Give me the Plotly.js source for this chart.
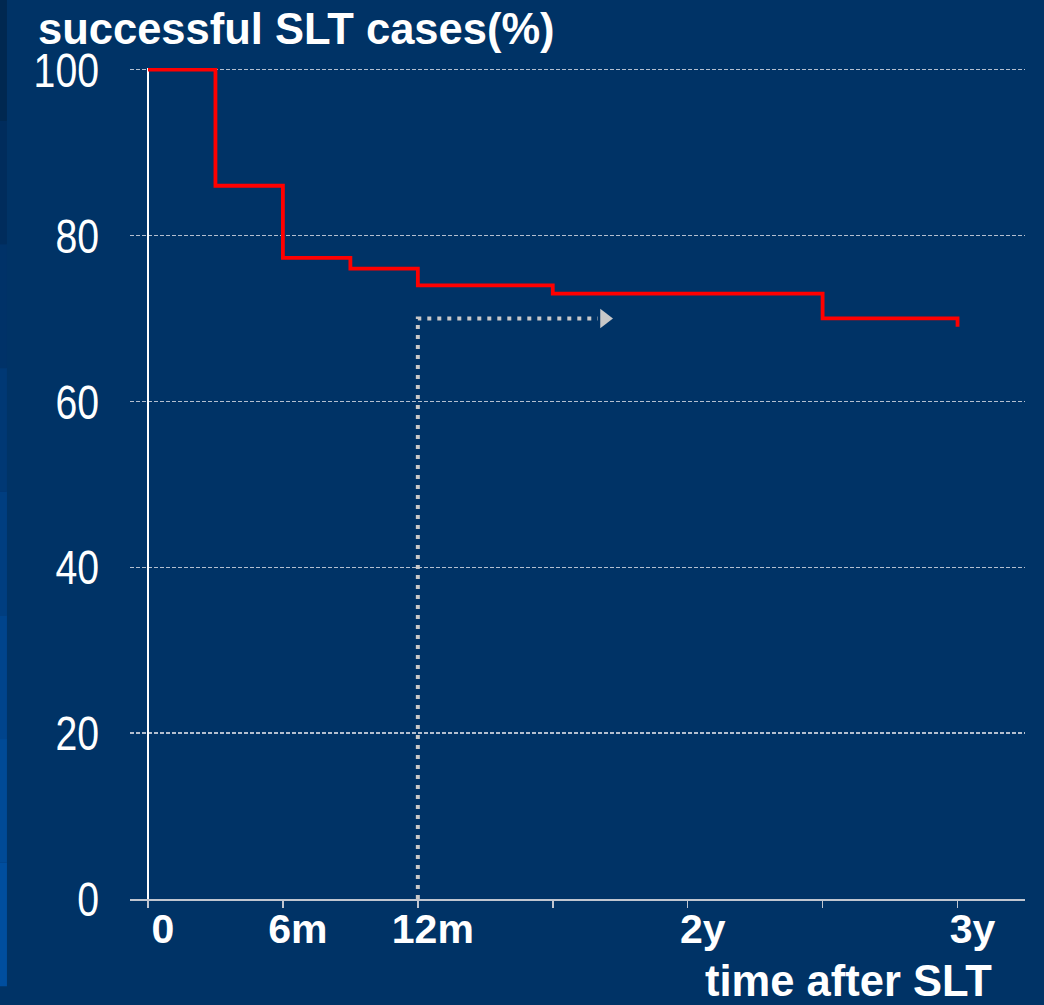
<!DOCTYPE html>
<html>
<head>
<meta charset="utf-8">
<script src="https://cdn.plot.ly/plotly-3.0.1.min.js"></script>
<style>html,body{margin:0;padding:0;background:#003366;}#chart{width:1044px;height:1005px;}</style>
</head>
<body>
<div id="chart"></div>
<script>
// Kaplan-Meier style step data (months after SLT, % successful)
const months = [0, 3, 6, 9, 12, 18, 30, 36, 36];
const successPct = [100, 86, 77.3, 76, 74, 73, 70, 70, 69];

// dotted guide arrow (12 months -> 70 %)
const guideX = [12, 12, 20];
const guideY = [0, 70, 70];
const arrowHeadX = [20.3];
const arrowHeadY = [70];

// axis ticks
const xTickVals = [0, 6, 12, 24, 36];
const xTickText = ['0', '6m', '12m', '2y', '3y'];
const yTickVals = [0, 20, 40, 60, 80, 100];

const traces = [
  {
    x: guideX, y: guideY, type: 'scatter', mode: 'lines',
    line: {color: '#c8c8c8', width: 4, dash: '4px,6px'},
    hoverinfo: 'skip', showlegend: false
  },
  {
    x: arrowHeadX, y: arrowHeadY, type: 'scatter', mode: 'markers',
    marker: {symbol: 'triangle-right', size: 17, color: '#c8c8c8', line: {width: 0}},
    hoverinfo: 'skip', showlegend: false
  },
  {
    x: months, y: successPct, type: 'scatter', mode: 'lines',
    line: {color: '#ff0000', width: 3.8, shape: 'hv'},
    showlegend: false
  }
];

// left-edge gradient strip (dark top -> bright blue bottom)
const stripColors = ['#002850', '#002c5c', '#003268', '#003874', '#003e80', '#00448c', '#004a96', '#004e9e'];
const stripShapes = stripColors.map((c, i) => {
  const top = 1.085 - i * (1.085 + 0.105) / stripColors.length;
  const bot = 1.085 - (i + 1) * (1.085 + 0.105) / stripColors.length;
  return {type: 'rect', xref: 'paper', yref: 'paper', x0: -0.1453, x1: -0.1375, y0: bot, y1: top,
          fillcolor: c, line: {width: 0}, layer: 'below'};
});

const layout = {
  width: 1044, height: 1005,
  margin: {l: 130, r: 19, t: 68, b: 106},
  paper_bgcolor: '#003366',
  plot_bgcolor: '#003366',
  showlegend: false,
  xaxis: {
    range: [-0.8, 39],
    tickvals: xTickVals, ticktext: xTickText,
    ticks: 'outside', ticklen: 7, tickcolor: '#c0c6d0', tickwidth: 1.5,
    minor: {dtick: 6, tick0: 0, ticks: 'outside', ticklen: 7, tickcolor: '#c0c6d0', tickwidth: 1.5, showgrid: false},
    showgrid: false,
    zeroline: true, zerolinecolor: '#ffffff', zerolinewidth: 1.5,
    showline: true, linecolor: '#c0c6d0', linewidth: 1.5,
    ticklabelshift: 15,
    ticklabelstandoff: -14,
    tickfont: {family: 'Liberation Sans, Arial, sans-serif', size: 41, color: '#ffffff', weight: 'bold'},
    fixedrange: true
  },
  yaxis: {
    range: [0, 100.2],
    tickvals: yTickVals,
    ticks: '',
    showgrid: true, gridcolor: '#b4bfcf', gridwidth: 1.3, griddash: '4px,2px',
    zeroline: false, showline: false,
    ticklabelstandoff: 30,
    tickfont: {family: 'Liberation Sans, Arial, sans-serif', size: 49, color: '#ffffff'},
    fixedrange: true
  },
  shapes: stripShapes,
  annotations: [
    {
      text: 'successful SLT cases(%)', xref: 'paper', yref: 'paper',
      x: -0.1045, y: 1.0465, xanchor: 'left', yanchor: 'middle', showarrow: false,
      font: {family: 'Liberation Sans, Arial, sans-serif', size: 43.5, color: '#ffffff', weight: 'bold'}
    },
    {
      text: 'time after SLT', xref: 'paper', yref: 'paper',
      x: 0.9655, y: -0.0985, xanchor: 'right', yanchor: 'middle', showarrow: false,
      font: {family: 'Liberation Sans, Arial, sans-serif', size: 43.5, color: '#ffffff', weight: 'bold'}
    }
  ]
};

Plotly.newPlot('chart', traces, layout, {displayModeBar: false, staticPlot: true}).then(() => {
  // narrow the y tick numbers (reference uses a condensed face), anchored at their right edge
  document.querySelectorAll('#chart .ytick text').forEach(t => {
    const x = parseFloat(t.getAttribute('x')) || 0;
    const tr = t.getAttribute('transform') || '';
    t.setAttribute('transform', tr + ' translate(' + x + ',0) scale(0.8,1) translate(' + (-x) + ',0)');
  });
});
</script>
</body>
</html>
